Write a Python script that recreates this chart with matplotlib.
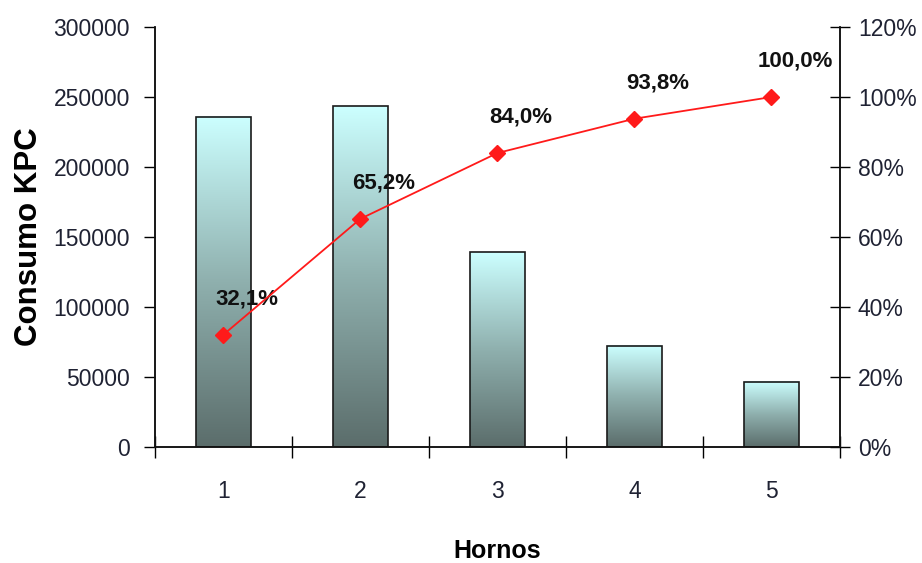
import numpy as np
import matplotlib
matplotlib.use("Agg")
import matplotlib.pyplot as plt
from matplotlib.colors import LinearSegmentedColormap
from matplotlib.ticker import FuncFormatter

# Consumo por horno y porcentaje acumulado (Pareto)
hornos = ["1", "2", "3", "4", "5"]
consumo = [236000, 243300, 139000, 72500, 46500]
acumulado = [32.1, 65.2, 84.0, 93.8, 100.0]
etiquetas = ["32,1%", "65,2%", "84,0%", "93,8%", "100,0%"]

FONT = ["Liberation Sans", "DejaVu Sans"]
TICK_COLOR = "#1f2233"

fig = plt.figure(figsize=(9.22, 5.63), dpi=100)
ax = fig.add_axes([0.168, 0.206, 0.743, 0.746])
ax2 = ax.twinx()

x = np.arange(1, len(hornos) + 1)
width = 0.4
cmap = LinearSegmentedColormap.from_list("barra", ["#5b6d6b", "#8fb0ae", "#ccffff"])
grad = np.linspace(0, 1, 256).reshape(-1, 1)

bars = ax.bar(x, consumo, width, facecolor="none", edgecolor="#1a1a1a",
              linewidth=1.2, zorder=3)
for b in bars:
    x0, h = b.get_x(), b.get_height()
    ax.imshow(grad, cmap=cmap, origin="lower", aspect="auto",
              extent=(x0, x0 + b.get_width(), 0, h), zorder=2)

ax.set_xlim(0.5, 5.5)
ax.set_ylim(0, 300000)
ax.set_yticks(np.arange(0, 300001, 50000))
ax.set_xticks(np.arange(0.5, 5.6, 1.0))
ax.set_xticklabels([])
ax.set_xticks(x, minor=True)
ax.set_xticklabels(hornos, minor=True)
ax.tick_params(axis="x", which="major", direction="inout", length=16, width=1)
ax.tick_params(axis="x", which="minor", length=0, pad=24)
ax.tick_params(axis="y", direction="out", length=8, width=1, pad=10)

ax2.plot(x, acumulado, color="#ff1a1a", linewidth=1.3, marker="D",
         markersize=8, zorder=4)
ax2.set_ylim(0, 120)
ax2.set_yticks(np.arange(0, 121, 20))
ax2.yaxis.set_major_formatter(FuncFormatter(lambda v, p: f"{v:.0f}%"))
ax2.tick_params(axis="y", direction="inout", length=14, width=1, pad=6)

for xi, yi, lab in zip(x, acumulado, etiquetas):
    ax2.annotate(lab, (xi, yi), xytext=(17, 26), textcoords="offset points",
                 ha="center", va="center", fontsize=16, fontweight="bold",
                 family=FONT, color="#111111")

for a in (ax, ax2):
    a.spines["top"].set_visible(False)
    for s in ("left", "right", "bottom"):
        a.spines[s].set_linewidth(1.1)
        a.spines[s].set_color("#111111")
    for lab in a.get_xticklabels(which="both") + a.get_yticklabels():
        lab.set_family(FONT)
        lab.set_fontsize(16.5)
        lab.set_color(TICK_COLOR)

ax.set_xlabel("Hornos", fontsize=18, fontweight="bold", family=FONT, labelpad=26)
ax.set_ylabel("Consumo KPC", fontsize=22.5, fontweight="bold", family=FONT,
              labelpad=7)

fig.savefig("out.png", dpi=100)
